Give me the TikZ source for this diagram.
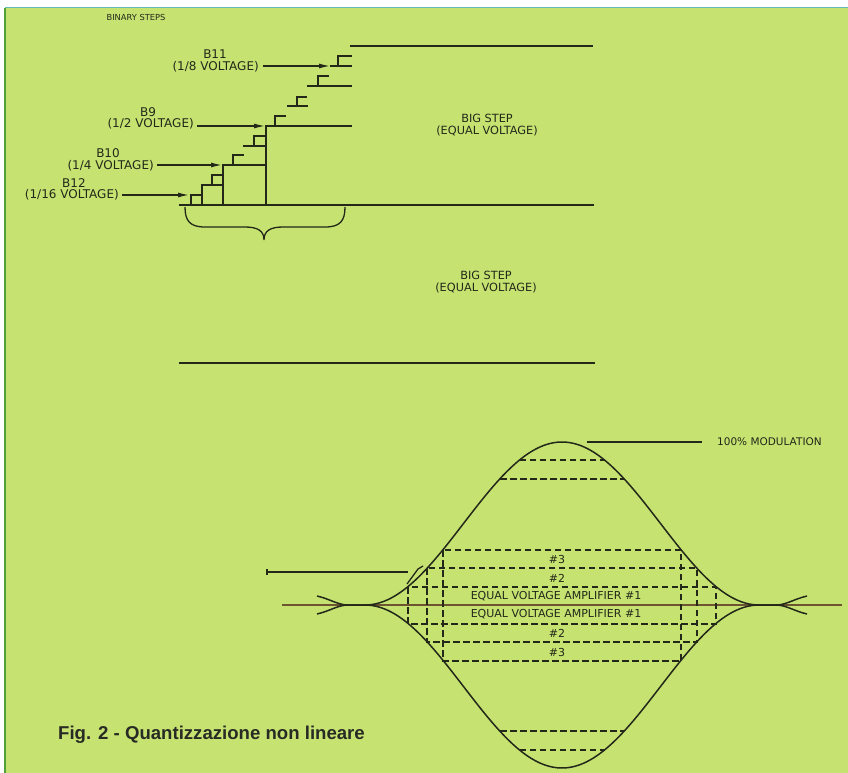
\documentclass[tikz,border=0pt]{standalone}
\usepackage{fontspec}
\setmainfont{DejaVu Sans}
\newfontfamily\capfont{Liberation Sans}
\usetikzlibrary{arrows.meta}
\definecolor{bg}{RGB}{198,227,114}
\definecolor{ink}{RGB}{35,40,25}
\definecolor{edgegreen}{RGB}{80,160,60}
\definecolor{topline}{RGB}{100,185,190}
\definecolor{axiscol}{RGB}{110,85,50}
\definecolor{captext}{RGB}{40,42,36}
\begin{document}
\begin{tikzpicture}[x=1pt,y=-1pt,
  ln/.style={draw=ink,line width=1.3pt},
  dsh/.style={draw=ink,line width=1.2pt,dash pattern=on 6.5pt off 3.5pt},
  lbl/.style={font=\fontsize{12}{13}\selectfont,text=ink,inner sep=0pt},
  slbl/.style={font=\fontsize{11}{12}\selectfont,text=ink,inner sep=0pt},
  arr/.style={ln,-{Latex[length=11pt,width=5pt]}},
  env/.style={draw=ink,line width=1.5pt},
]
\useasboundingbox (0,0) rectangle (848,773);
% background
\fill[white] (0,0) rectangle (848,773);
\fill[bg] (5,8) rectangle (848,773);
\draw[edgegreen,line width=2pt] (5,8) -- (5,773);
\draw[topline,line width=1.5pt] (5,7.5) -- (848,7.5);

% ---------- upper part ----------
\node[font=\fontsize{8.3}{9}\selectfont,text=ink,inner sep=0pt] (binary) at (136,17) {BINARY STEPS};

% big horizontal lines
\coordinate (top1) at (350,46);  \coordinate (top2) at (593,46);
\coordinate (mid1) at (179,205); \coordinate (mid2) at (594,205);
\coordinate (bot1) at (179,363); \coordinate (bot2) at (595,363);
\draw[ln] (top1) -- (top2);
\draw[ln] (mid1) -- (mid2);
\draw[ln] (bot1) -- (bot2);

% staircase verticals and levels
\draw[ln] (266,205) -- (266,126) -- (352,126);
\draw[ln] (223,205) -- (223,165) -- (266,165);
\draw[ln] (202,205) -- (202,185) -- (223,185);
\draw[ln] (243,146) -- (266,146);
\draw[ln] (287,106) -- (308,106);
\draw[ln] (307,86) -- (352,86);
% small step glyphs
\draw[ln] (191,205) -- (191,195) -- (202,195);
\draw[ln] (212,185) -- (212,175) -- (223,175);
\draw[ln] (233,165) -- (233,155) -- (244,155);
\draw[ln] (254,146) -- (254,136) -- (266,136);
\draw[ln] (275,126) -- (275,116) -- (286,116);
\draw[ln] (297,106) -- (297,97) -- (307,97);
\draw[ln] (318,86) -- (318,76) -- (329,76);
\draw[ln] (338,66) -- (338,56) -- (352,56);

% labels and arrows
\node[lbl] (b11a) at (215,54) {B11};
\node[lbl,anchor=east] (b11b) at (259,67) {(1/8 VOLTAGE)};
\coordinate (b11s) at (263,66); \coordinate (b11t) at (330,66); \coordinate (b11e) at (352,66);
\draw[arr] (b11s) -- (b11t); \draw[ln] (b11t) -- (b11e);

\node[lbl] (b9a) at (148,112) {B9};
\node[lbl,anchor=east] (b9b) at (194,124) {(1/2 VOLTAGE)};
\coordinate (b9s) at (197,126); \coordinate (b9t) at (265,126);
\draw[arr] (b9s) -- (b9t);

\node[lbl] (b10a) at (108,153) {B10};
\node[lbl,anchor=east] (b10b) at (154,166) {(1/4 VOLTAGE)};
\coordinate (b10s) at (157,165); \coordinate (b10t) at (222,165);
\draw[arr] (b10s) -- (b10t);

\node[lbl] (b12a) at (74,183) {B12};
\node[lbl,anchor=east] (b12b) at (119,195) {(1/16 VOLTAGE)};
\coordinate (b12s) at (122,195); \coordinate (b12t) at (189,195);
\draw[arr] (b12s) -- (b12t);

% brace
\draw[ln] (185,207) .. controls (185,221) and (190,227) .. (205,227) -- (245,227)
  .. controls (258,227) and (264,231) .. (264,240)
  .. controls (264,231) and (270,227) .. (283,227) -- (325,227)
  .. controls (340,227) and (345,221) .. (345,207);

\node[slbl,align=center,font=\fontsize{11.3}{12}\selectfont] (big1) at (487,125) {BIG STEP\\(EQUAL VOLTAGE)};
\node[slbl,align=center,font=\fontsize{11.3}{12}\selectfont] (big2) at (486,282) {BIG STEP\\(EQUAL VOLTAGE)};

% ---------- lower part ----------
\coordinate (ax1) at (282,605); \coordinate (ax2) at (842,605);
\draw[axiscol,line width=1.1pt] (ax1) -- (ax2);

% envelope
\draw[env] (317,596) .. controls (330,599) and (338,605) .. (348,605) -- (365,605)
  -- plot[domain=365:759,samples=120] (\x,{605-81.5*(1+cos((\x-562)*0.91371))})
  -- (776,605) .. controls (786,605) and (794,599) .. (807,596);
\draw[env] (317,614) .. controls (330,611) and (338,605) .. (348,605) -- (365,605)
  -- plot[domain=365:759,samples=120] (\x,{605+81.5*(1+cos((\x-562)*0.91371))})
  -- (776,605) .. controls (786,605) and (794,611) .. (807,614);

% dashed quantisation grid
\draw[dsh] (408,587) rectangle (716,624);
\draw[dsh] (427,568) rectangle (697,642);
\draw[dsh] (443,550) rectangle (681,661);
\draw[dsh] (519.5,460) -- (604.5,460);
\draw[dsh] (500,479) -- (624,479);
\draw[dsh] (500,731) -- (624,731);
\draw[dsh] (519.5,750) -- (604.5,750);

\node[slbl] (n3u) at (557,559) {\#3};
\node[slbl] (n2u) at (557,578) {\#2};
\node[slbl] (n1u) at (556,596) {EQUAL VOLTAGE AMPLIFIER \#1};
\node[slbl] (n1l) at (556,614) {EQUAL VOLTAGE AMPLIFIER \#1};
\node[slbl] (n2l) at (557,633) {\#2};
\node[slbl] (n3l) at (557,652) {\#3};

% 100% modulation
\coordinate (m1) at (587,442); \coordinate (m2) at (702,442);
\draw[ln] (m1) -- (m2);
\node[slbl,anchor=west,font=\fontsize{10.5}{11}\selectfont] (mod) at (717,442) {100\% MODULATION};

% pointer
\coordinate (p1) at (267,572); \coordinate (p2) at (408,572);
\draw[ln] (p1) -- (p2);
\draw[ln] (267,569) -- (267,575);
\draw[ln] (407,584) -- (418,569) -- (423,566);

% caption
\node[font=\capfont\bfseries\fontsize{18.6}{21}\selectfont,text=captext,anchor=west,inner sep=0pt] (cap) at (58,735) {Fig. 2 - Quantizzazione non lineare};
\end{tikzpicture}
\end{document}
